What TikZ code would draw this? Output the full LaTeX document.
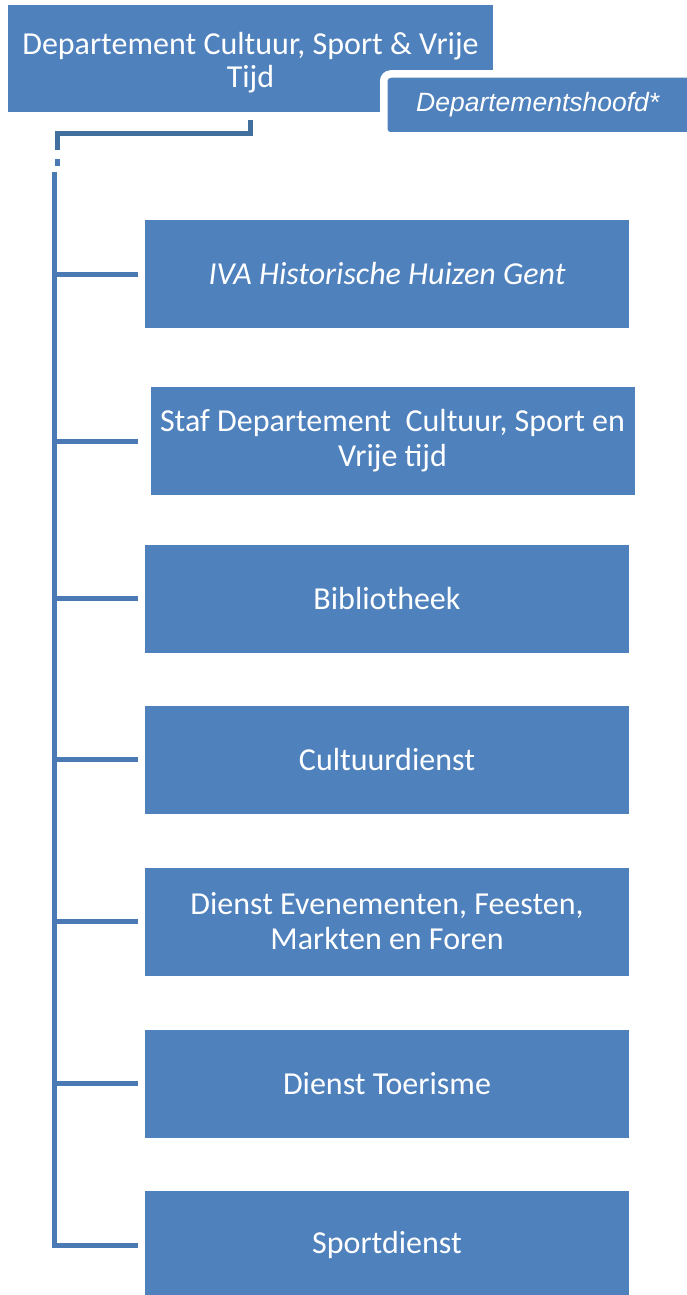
\documentclass[tikz,border=0pt]{standalone}
\usepackage{fontspec}
\setmainfont{Carlito}
\newfontfamily\arialfont{Liberation Sans}
\usetikzlibrary{shadows}
\definecolor{boxblue}{HTML}{4F81BD}
\definecolor{linkblue}{HTML}{4A79B3}
\definecolor{darkblue}{HTML}{41709F}

\tikzstyle{unit}=[rectangle,fill=boxblue,text=white,minimum width=484pt,minimum height=108pt,inner sep=0pt,align=center,font=\fontsize{32}{35}\selectfont]
\tikzstyle{head}=[rectangle,fill=boxblue,text=white,minimum width=320pt,minimum height=62pt,inner sep=0pt,draw=white,line width=7.5pt,rounded corners=7pt,drop shadow={opacity=0.25,shadow xshift=1pt,shadow yshift=-3pt},font=\arialfont\itshape\fontsize{26.5}{30}\selectfont]
\tikzstyle{link}=[draw=linkblue,line width=5pt]

\begin{document}
\begin{tikzpicture}[x=1pt,y=-1pt]
    \useasboundingbox (0,0) rectangle (686,1295);
    %Department
    \node[unit,minimum width=485pt,minimum height=107pt,font=\fontsize{32}{33}\selectfont] (dept) at (250.5,58.5)
        {\rule{0pt}{31pt}Departement Cultuur, Sport \& Vrije\\Tijd};
    \node[head] (hoofd) at (543.75,105) {\hspace*{-12pt}\raisebox{-2pt}{Departementshoofd*}};
    %Services
    \foreach \pos/\name/\txt in {{(387,274)/iva/{\itshape IVA Historische Huizen Gent}},
                                 {(392.5,441)/staf/{Staf Departement\ \ Cultuur, Sport en\\Vrije tijd}},
                                 {(387,598.5)/bib/Bibliotheek},
                                 {(387,759.5)/cult/Cultuurdienst},
                                 {(387,921.5)/evt/{Dienst Evenementen, Feesten,\\Markten en Foren}},
                                 {(387,1083.5)/toer/Dienst Toerisme},
                                 {(387,1245)/sport/Sportdienst}}
    \node[unit] (\name) at \pos {\txt};
    %Bus
    \coordinate (bustop) at (54,172);
    \coordinate (busend) at (54,1245);
    \draw[draw=darkblue,line width=5pt] ([yshift=-8pt]dept.south) -- ++(0,13) -| (57,150);
    \draw[draw=linkblue,line width=5pt] (57,159) -- (57,166);
    \draw[link] (bustop) -- (busend) -- ([xshift=-7pt]sport.west);
    \foreach \name in {iva,staf,bib,cult,evt,toer}
    \draw[link] (bustop |- \name.west) -- ([xshift=-7pt]\name.west -| sport.west);
\end{tikzpicture}
\end{document}
